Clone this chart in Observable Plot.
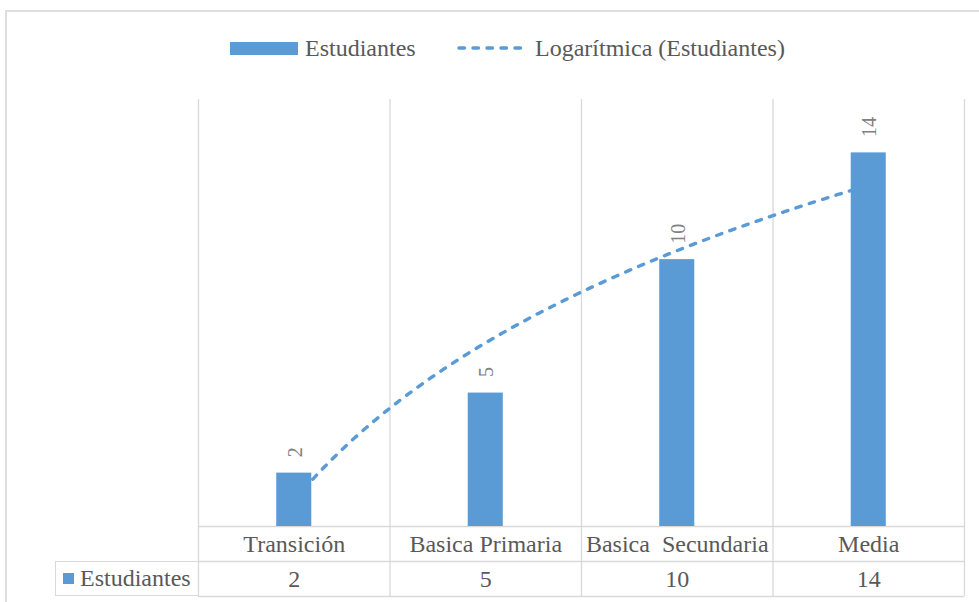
<!DOCTYPE html>
<html>
<head>
<meta charset="utf-8">
<script src="https://cdn.jsdelivr.net/npm/d3@7"></script>
<script src="https://cdn.jsdelivr.net/npm/@observablehq/plot@0.6"></script>
<style>
  html, body { margin: 0; padding: 0; background: #fff; overflow: hidden; font-family: 'Liberation Serif', serif; }
  #wrap { position: relative; width: 979px; height: 602px; font-family: 'Liberation Serif', serif; color: #595959; }
  #border { position: absolute; left: 5px; top: 10px; width: 1100px; height: 700px; border: 2px solid #dedede; box-sizing: border-box; }
  #chart { position: absolute; left: 0; top: 80px; }
  #chart svg, #chart svg text { font-family: 'Liberation Serif', serif !important; white-space: pre; }
  .leg { position: absolute; font-family: 'Liberation Serif', serif; font-size: 24px; line-height: 1; white-space: nowrap; color: #595959; }
  #legcell { position: absolute; left: 55px; top: 561px; width: 143px; height: 35px; box-sizing: border-box;
             border-left: 1.5px solid #d9d9d9; border-top: 1px solid #d9d9d9; border-bottom: 1px solid #d9d9d9; }
</style>
</head>
<body>
<div id="wrap">
  <div id="border"></div>
  <div id="chart"></div>
  <div id="legend"></div>
  <div id="legcell"></div>
</div>
<script>
// ---- data ----
const categories = ["Transición", "Basica Primaria", "Basica  Secundaria", "Media"];
const estudiantes = [2, 5, 10, 14];
const seriesName = "Estudiantes";
const trendName = "Logarítmica (Estudiantes)";

const blue = "#5b9bd5";
const grid = "#d9d9d9";
const textCol = "#595959";
const serif = "'Liberation Serif', serif";
const dash = "5.5,8.5";

const data = categories.map((c, i) => ({cat: c, pos: i + 1, value: estudiantes[i]}));

// Excel-style logarithmic trendline: y = a ln(x) + b (least squares)
const lx = data.map(d => Math.log(d.pos));
const mx = d3.mean(lx), my = d3.mean(estudiantes);
const a = d3.sum(lx.map((v, i) => (v - mx) * (estudiantes[i] - my))) / d3.sum(lx.map(v => (v - mx) ** 2));
const b = my - a * mx;
const trend = d3.range(1, 4.0001, 0.02).map(t => ({pos: t, value: a * Math.log(t) + b}));

const boundaries = d3.range(0.5, categories.length + 1, 1);
const halfBar = 0.0915;

const plot = Plot.plot({
  width: 979,
  height: 522,
  marginLeft: 198,
  marginRight: 15,
  marginTop: 19,
  marginBottom: 76,
  style: {fontFamily: serif, background: "transparent", overflow: "visible"},
  x: {type: "linear", domain: [0.5, categories.length + 0.5], axis: null},
  y: {domain: [0, 16], axis: null},
  marks: [
    Plot.ruleX(boundaries, {x: d => d, stroke: grid, strokeWidth: 1.3, insetBottom: -70}),
    Plot.ruleY([0], {stroke: grid, strokeWidth: 1.3}),
    Plot.ruleY([0], {stroke: grid, strokeWidth: 1.3, dy: 35}),
    Plot.ruleY([0], {stroke: grid, strokeWidth: 1.3, dy: 70}),
    Plot.line(trend, {x: "pos", y: "value", stroke: blue, strokeWidth: 3.4, strokeDasharray: dash, strokeLinecap: "round"}),
    Plot.rectY(data, {x1: d => d.pos - halfBar, x2: d => d.pos + halfBar, y: "value", fill: blue}),
    Plot.text(data, {x: "pos", y: "value", text: d => String(d.value), rotate: -90, textAnchor: "start", lineAnchor: "middle",
                     dy: -16, dx: 1, fontSize: 20, fontFamily: serif, fill: "#808080"}),
    Plot.text(data, {x: "pos", text: "cat", frameAnchor: "bottom", lineAnchor: "middle", dy: 18, fontSize: 24, fontFamily: serif, fill: textCol}),
    Plot.text(data, {x: "pos", text: d => String(d.value), frameAnchor: "bottom", lineAnchor: "middle", dy: 53, fontSize: 24, fontFamily: serif, fill: textCol})
  ]
});
document.getElementById("chart").appendChild(plot);

// ---- legend (top) and data-table legend cell ----
const leg = document.getElementById("legend");
leg.innerHTML = `
  <div style="position:absolute;left:230px;top:42px;width:68px;height:13px;background:${blue}"></div>
  <div class="leg" style="left:305px;top:36px">${seriesName}</div>
  <svg style="position:absolute;left:455px;top:40px" width="80" height="16">
    <line x1="4" y1="8" x2="74" y2="8" stroke="${blue}" stroke-width="3.4" stroke-dasharray="${dash}" stroke-linecap="round"/>
  </svg>
  <div class="leg" style="left:535px;top:36px">${trendName}</div>
  <div style="position:absolute;left:63px;top:573px;width:11px;height:11px;background:${blue}"></div>
  <div class="leg" style="left:80px;top:566px">${seriesName}</div>
`;
</script>
</body>
</html>
